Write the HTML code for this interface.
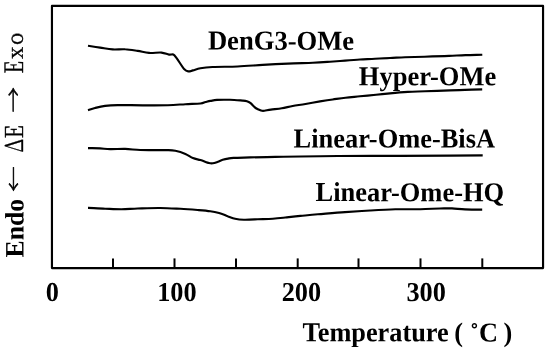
<!DOCTYPE html>
<html><head><meta charset="utf-8"><title>DSC curves</title>
<style>
html,body{margin:0;padding:0;background:#fff;}
body{width:550px;height:352px;overflow:hidden;}
svg{display:block}
text{font-family:"Liberation Serif",serif;font-weight:bold;font-size:26.3px;fill:#000}
.m{font-family:"Noto Serif CJK SC","Liberation Serif",serif;font-weight:normal;font-size:26.6px;stroke:#000;stroke-width:0.42px;stroke-linejoin:round}
</style></head><body>
<svg width="550" height="352" viewBox="0 0 550 352">
<rect x="0" y="0" width="550" height="352" fill="#fff"/>
<rect x="51.95" y="5.9" width="491.1" height="262.2" fill="none" stroke="#000" stroke-width="2.15" stroke-linejoin="round"/>
<g stroke="#000" stroke-width="2.0"><line x1="113.0" y1="258.4" x2="113.0" y2="268.1"/><line x1="174.5" y1="258.4" x2="174.5" y2="268.1"/><line x1="236.0" y1="258.4" x2="236.0" y2="268.1"/><line x1="297.7" y1="258.4" x2="297.7" y2="268.1"/><line x1="358.5" y1="258.4" x2="358.5" y2="268.1"/><line x1="420.5" y1="258.4" x2="420.5" y2="268.1"/><line x1="482.3" y1="258.4" x2="482.3" y2="268.1"/></g>
<g fill="none" stroke="#000" stroke-width="2.15" stroke-linecap="butt" stroke-linejoin="round">
<path d="M88.0 45.8C90.0 46.1 96.0 47.0 100.1 47.6C104.2 48.2 108.4 49.1 112.6 49.4C116.8 49.7 121.0 49.0 125.2 49.3C129.4 49.5 133.7 50.3 137.7 50.9C141.7 51.5 145.0 52.6 149.0 52.9C153.0 53.2 158.2 52.3 161.5 52.6C164.8 52.9 167.0 54.3 169.0 54.6C171.0 54.9 172.0 54.0 173.3 54.6C174.6 55.2 174.8 55.7 176.6 58.1C178.4 60.5 182.1 66.8 184.1 69.0C186.1 71.2 186.9 71.2 188.4 71.4C189.9 71.6 190.9 70.9 192.9 70.4C194.9 69.9 197.1 68.9 200.4 68.3C203.7 67.7 206.3 67.3 212.5 67.0C218.7 66.7 229.2 66.8 237.6 66.5C246.0 66.2 254.3 65.4 262.7 64.9C271.1 64.4 279.4 64.0 287.8 63.6C296.2 63.2 305.9 63.1 312.9 62.8C319.9 62.5 324.6 62.1 330.0 61.7C335.4 61.3 340.0 61.0 345.0 60.6C350.0 60.2 355.0 59.8 360.0 59.5C365.0 59.2 370.0 59.1 375.0 58.8C380.0 58.5 385.0 58.2 390.0 58.0C395.0 57.8 399.2 57.5 405.0 57.3C410.8 57.1 417.2 56.9 424.5 56.7C431.8 56.5 442.2 56.2 449.0 55.9C455.8 55.6 459.9 55.3 465.5 55.1C471.1 54.9 479.5 54.8 482.3 54.7"/>
<path d="M88.0 110.3C89.2 109.9 92.2 108.7 95.0 108.0C97.8 107.3 101.3 106.4 105.1 105.9C108.9 105.4 111.3 105.2 117.6 105.1C123.9 105.0 134.3 105.3 142.7 105.3C151.1 105.3 160.7 105.4 167.8 105.2C174.9 105.0 180.0 104.5 185.4 104.2C190.8 103.9 197.1 103.9 200.4 103.5C203.8 103.1 203.8 102.4 205.5 102.0C207.2 101.6 208.6 101.2 210.5 100.9C212.4 100.6 213.8 100.1 217.0 99.9C220.2 99.7 225.7 99.7 230.0 99.8C234.3 99.9 239.8 100.4 242.6 100.6C245.4 100.8 245.6 100.8 246.9 101.2C248.2 101.6 249.2 102.1 250.6 103.2C252.0 104.3 253.9 106.8 255.6 108.0C257.3 109.2 259.5 110.0 261.0 110.5C262.5 111.0 262.9 110.9 264.5 110.7C266.1 110.5 268.0 110.0 270.9 109.6C273.8 109.2 278.2 108.9 281.8 108.3C285.4 107.7 288.8 106.7 292.7 106.0C296.6 105.3 300.9 104.8 305.5 104.0C310.1 103.2 315.5 102.2 320.0 101.4C324.5 100.7 328.4 100.1 332.7 99.5C336.9 98.9 340.9 98.2 345.5 97.7C350.1 97.2 354.9 96.8 360.0 96.3C365.1 95.8 371.0 95.3 376.0 94.8C381.0 94.3 384.7 93.9 390.0 93.4C395.3 92.9 402.0 92.3 407.8 91.9C413.6 91.5 418.0 91.5 425.0 91.2C432.0 91.0 443.3 90.6 450.0 90.4C456.7 90.2 459.6 90.1 465.0 89.9C470.4 89.7 479.3 89.5 482.2 89.4"/>
<path d="M88.0 148.1C90.0 148.2 96.3 148.2 100.0 148.4C103.7 148.6 105.9 149.0 110.1 149.1C114.3 149.2 120.2 148.8 125.2 148.9C130.2 149.1 135.2 149.8 140.2 150.0C145.2 150.2 150.7 150.1 155.3 150.1C159.9 150.1 164.5 150.0 167.8 150.1C171.1 150.2 172.4 150.2 175.3 150.8C178.2 151.4 182.5 152.7 185.4 153.9C188.3 155.1 190.4 157.1 192.9 158.1C195.4 159.1 198.2 159.4 200.4 160.1C202.6 160.8 204.9 161.8 206.3 162.3C207.7 162.8 207.9 162.8 208.8 163.0C209.7 163.2 210.6 163.4 211.5 163.4C212.4 163.4 213.2 163.3 214.3 163.0C215.4 162.7 216.6 162.2 218.0 161.7C219.4 161.2 221.0 160.3 222.7 159.8C224.4 159.3 226.2 158.9 228.0 158.6C229.8 158.3 229.9 158.1 233.6 157.9C237.3 157.7 243.2 157.6 250.2 157.4C257.1 157.2 266.9 157.1 275.3 156.9C283.7 156.8 289.9 156.7 300.4 156.5C310.8 156.3 321.4 156.1 338.0 156.0C354.6 155.9 381.3 155.9 400.0 155.8C418.7 155.7 436.2 155.7 450.0 155.6C463.8 155.5 477.2 155.4 482.7 155.4"/>
<path d="M88.0 207.9C90.8 208.0 99.5 208.5 105.1 208.7C110.7 208.9 116.0 209.2 121.4 209.2C126.8 209.2 131.2 208.7 137.7 208.5C144.2 208.3 153.2 207.9 160.3 208.0C167.4 208.1 174.1 208.5 180.4 208.8C186.7 209.1 192.9 209.6 197.9 210.0C202.9 210.4 206.8 210.7 210.3 211.2C213.8 211.7 216.1 212.2 219.0 213.0C221.9 213.8 224.9 215.2 227.6 216.2C230.3 217.1 232.4 218.1 235.1 218.7C237.8 219.3 240.1 219.6 243.9 219.7C247.7 219.8 252.9 219.5 257.7 219.3C262.5 219.1 268.2 219.0 272.8 218.7C277.4 218.4 280.7 218.0 285.3 217.5C289.9 217.0 295.0 216.4 300.4 215.9C305.8 215.4 310.5 214.9 317.9 214.3C325.3 213.7 336.3 212.7 345.0 212.1C353.7 211.5 361.8 211.0 370.2 210.5C378.6 210.0 386.9 209.5 395.3 209.3C403.7 209.1 412.9 209.3 420.4 209.2C427.8 209.1 434.7 208.6 440.0 208.5C445.3 208.4 447.8 208.2 452.0 208.4C456.2 208.6 460.0 209.2 465.0 209.4C470.0 209.6 479.3 209.6 482.2 209.6"/>
</g>
<text transform="translate(207.9,49.6) rotate(0.03) scale(1.012,1.04)">DenG3-OMe</text>
<text transform="translate(358.8,85.3) rotate(0.03) scale(1.009,1.04)">Hyper-OMe</text>
<text transform="translate(293.6,147.5) rotate(0.03) scale(1.004,1.04)">Linear-Ome-BisA</text>
<text transform="translate(315.6,201.1) rotate(0.03) scale(1.006,1.04)">Linear-Ome-HQ</text>
<text transform="translate(52.40,301.1) rotate(0.03) scale(1.0,1.04)" text-anchor="middle">0</text>
<text transform="translate(176.90,301.1) rotate(0.03) scale(1.0,1.04)" text-anchor="middle">100</text>
<text transform="translate(301.40,301.1) rotate(0.03) scale(1.0,1.04)" text-anchor="middle">200</text>
<text transform="translate(426.20,301.1) rotate(0.03) scale(1.0,1.04)" text-anchor="middle">300</text>
<text transform="translate(302.6,341.3) rotate(0.03) scale(1.0,1.04)">Temperature <tspan x="151.6">( </tspan><tspan x="167.3" dy="1.3">˚</tspan><tspan dy="-1.3" dx="0.4">C </tspan><tspan x="200.9">)</tspan></text>
<g transform="translate(23.6,256.4) rotate(-90.03)">
<text transform="translate(-1.1,0) scale(0.978,1.01)" x="0" y="0">Endo</text>
<text class="m" transform="translate(64.65,-9.9) scale(0.96,0.72)" x="0" y="9.7" style="stroke-width:0.75px">←</text>
<text class="m" transform="translate(104.0,-0.8) scale(1,0.93)" x="0" y="0" textLength="27" lengthAdjust="spacingAndGlyphs">ΔE</text>
<text class="m" transform="translate(143.95,-9.9) scale(0.952,0.72)" x="0" y="9.7" style="stroke-width:0.75px">→</text>
<text class="m" transform="translate(183.0,-0.8)" x="0" y="0" style="font-size:25.4px"><tspan textLength="12.4" lengthAdjust="spacingAndGlyphs">E</tspan><tspan x="14.6" font-size="20.8">x</tspan><tspan x="28.5" font-size="20.8">o</tspan></text>
</g>
</svg>
</body></html>
